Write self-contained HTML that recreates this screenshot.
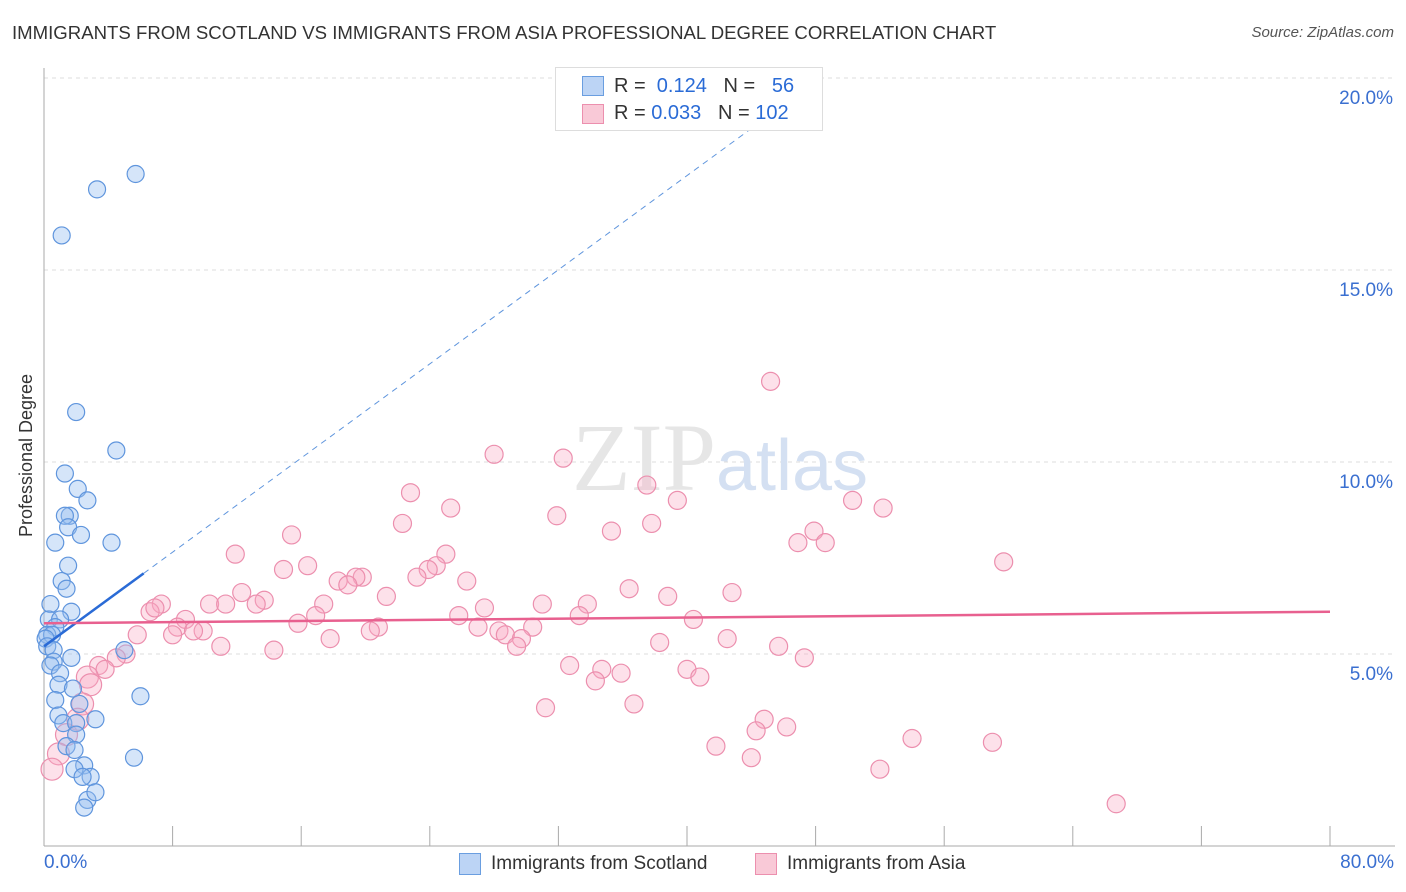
<!DOCTYPE html>
<html><head><meta charset="utf-8"><style>
body{margin:0;background:#fff;font-family:"Liberation Sans",sans-serif;}
#c{position:relative;width:1406px;height:892px;overflow:hidden;}
.t{position:absolute;white-space:nowrap;}
</style></head><body>
<div id="c">
<div class="t" style="left:12px;top:22px;font-size:18.6px;color:#333;">IMMIGRANTS FROM SCOTLAND VS IMMIGRANTS FROM ASIA PROFESSIONAL DEGREE CORRELATION CHART</div>
<div class="t" style="right:12px;top:24px;font-size:15px;color:#555;font-style:italic;">Source: ZipAtlas.com</div>
<svg id="s" width="1406" height="892" style="position:absolute;left:0;top:0"></svg>
</div>
<script>
const scotX=[3.3,5.7,1.1,2.0,4.5,1.3,2.1,2.7,1.6,1.3,1.5,2.3,0.7,4.2,1.5,1.1,1.4,0.4,1.7,0.3,1.0,0.7,0.2,0.5,0.1,0.2,0.6,5.0,0.6,1.7,0.4,1.0,0.9,1.8,0.7,2.2,6.0,0.9,3.2,1.2,2.0,2.0,1.4,1.9,5.6,2.5,1.9,2.9,2.4,2.7,3.2,2.5];
const scotY=[17.1,17.5,15.9,11.3,10.3,9.7,9.3,9.0,8.6,8.6,8.3,8.1,7.9,7.9,7.3,6.9,6.7,6.3,6.1,5.9,5.9,5.7,5.5,5.5,5.4,5.2,5.1,5.1,4.8,4.9,4.7,4.5,4.2,4.1,3.8,3.7,3.9,3.4,3.3,3.2,3.2,2.9,2.6,2.5,2.3,2.1,2.0,1.8,1.8,1.2,1.4,1.0];
const asiaX=[45.2,28.0,32.3,37.5,22.8,39.4,50.3,52.2,25.3,31.9,22.3,37.8,35.3,15.4,47.9,46.9,48.6,11.9,25.0,59.7,24.4,16.4,14.9,23.9,19.8,23.2,18.3,19.4,26.3,18.9,36.4,12.3,21.3,42.8,38.8,7.3,13.7,13.2,10.3,11.3,31.0,6.6,6.9,33.8,27.4,17.4,25.8,16.9,33.3,8.8,40.4,15.8,20.8,8.3,27.0,30.4,9.9,9.3,28.3,8.0,20.3,28.7,29.7,17.8,5.8,42.5,38.3,29.4,11.0,14.3,45.7,5.1,4.5,47.3,3.4,3.8,32.7,34.7,35.9,40.0,40.8,34.3,2.7,2.9,2.4,2.1,36.7,31.2,44.8,44.3,46.2,1.4,41.8,54.0,59.0,44.0,0.9,52.0,0.5,66.7];
const asiaY=[12.1,10.2,10.1,9.4,9.2,9.0,9.0,8.8,8.8,8.6,8.4,8.4,8.2,8.1,8.2,7.9,7.9,7.6,7.6,7.4,7.3,7.3,7.2,7.2,7.0,7.0,6.9,7.0,6.9,6.8,6.7,6.6,6.5,6.6,6.5,6.3,6.4,6.3,6.3,6.3,6.3,6.1,6.2,6.3,6.2,6.3,6.0,6.0,6.0,5.9,5.9,5.8,5.7,5.7,5.7,5.7,5.6,5.6,5.6,5.5,5.6,5.5,5.4,5.4,5.5,5.4,5.3,5.2,5.2,5.1,5.2,5.0,4.9,4.9,4.7,4.6,4.7,4.6,4.5,4.6,4.4,4.3,4.4,4.2,3.7,3.3,3.7,3.6,3.3,3.0,3.1,2.9,2.6,2.8,2.7,2.3,2.4,2.0,2.0,1.1];
const yTicks=[5,10,15,20];
const scotTrend=[0,5.2,6.2,7.1];
const asiaTrend=[0,5.8,80,6.1];
const X=v=>44+v/80*1286, Y=v=>846-v/5*192;
const s=document.getElementById('s'),NS='http://www.w3.org/2000/svg';
function mk(tag,a,name,p){const e=document.createElementNS(NS,tag);for(const k in a)e.setAttribute(k,a[k]);


(p||s).appendChild(e);return e;}
yTicks.forEach(v=>{mk('line',{x1:44,x2:1395,y1:Y(v),y2:Y(v),stroke:'#ddd','stroke-dasharray':'4,4'},'gridline');
const t=mk('text',{x:1393,y:Y(v)+26,'text-anchor':'end','font-size':19,fill:'#3a6fd0','font-family':'Liberation Sans'},'y-tick-label');t.textContent=v.toFixed(1)+'%';});
mk('line',{x1:44,x2:44,y1:68,y2:846,stroke:'#aaa'},'y-axis');
mk('line',{x1:44,x2:1395,y1:846,y2:846,stroke:'#aaa'},'x-axis');
for(let i=1;i<=10;i++){mk('line',{x1:X(i*8),x2:X(i*8),y1:826,y2:846,stroke:'#aaa'},'x-tick');}
const wm=mk('text',{x:720,y:490,'text-anchor':'middle','font-size':96,fill:'#e6e6e6','font-family':'Liberation Serif'},'watermark');wm.innerHTML='ZIP<tspan fill="#d4e0f2" font-family="Liberation Sans" font-size="72">atlas</tspan>';
asiaX.forEach((v,i)=>mk('circle',{cx:X(v),cy:Y(asiaY[i]),r:v<3?11:9,fill:'rgba(248,170,195,0.35)',stroke:'#ec8fae','stroke-width':1.2},'asia-point'));
scotX.forEach((v,i)=>mk('circle',{cx:X(v),cy:Y(scotY[i]),r:8.5,fill:'rgba(150,190,240,0.4)',stroke:'#5f95dd','stroke-width':1.2},'scotland-point'));
const sl=(scotTrend[3]-scotTrend[1])/(6.2-0);
const yEnd=18.9;
mk('line',{x1:X(6.2),y1:Y(scotTrend[3]),x2:X(6.2+(yEnd-scotTrend[3])/sl),y2:Y(yEnd),stroke:'#5f95dd','stroke-dasharray':'6,5','stroke-width':1},'scotland-trend-ext');
mk('line',{x1:X(0),y1:Y(scotTrend[1]),x2:X(6.2),y2:Y(scotTrend[3]),stroke:'#2a6bd6','stroke-width':2.5},'scotland-trend');
mk('line',{x1:X(0),y1:Y(asiaTrend[1]),x2:X(asiaTrend[2]),y2:Y(asiaTrend[3]),stroke:'#e8608f','stroke-width':2.5},'asia-trend');
</script>
<div class="t" style="left:44px;top:852px;font-size:19px;color:#3a6fd0;">0.0%</div>
<div class="t" style="right:12px;top:852px;font-size:19px;color:#3a6fd0;">80.0%</div>
<div class="t" style="left:-55px;top:445px;transform:rotate(-90deg);font-size:18px;color:#333;">Professional Degree</div>
<div style="position:absolute;left:555px;top:67px;width:266px;height:62px;border:1px solid #ddd;background:#fff;font-size:20px;">
<div class="t" style="left:26px;top:8px;width:20px;height:18px;background:#bcd4f5;border:1px solid #6a9ee0"></div>
<div class="t" style="left:58px;top:7px;color:#333">R = <span style="color:#2a6bd6">&nbsp;0.124</span>&nbsp;&nbsp;&nbsp;N = <span style="color:#2a6bd6">&nbsp;&nbsp;56</span></div>
<div class="t" style="left:26px;top:36px;width:20px;height:18px;background:#f9c9d7;border:1px solid #ec8fae"></div>
<div class="t" style="left:58px;top:34px;color:#333">R = <span style="color:#2a6bd6">0.033</span>&nbsp;&nbsp;&nbsp;N = <span style="color:#2a6bd6">102</span></div>
</div>
<div class="t" style="left:459px;top:853px;width:20px;height:20px;background:#bcd4f5;border:1px solid #6a9ee0"></div>
<div class="t" style="left:491px;top:853px;font-size:19px;color:#333">Immigrants from Scotland</div>
<div class="t" style="left:755px;top:853px;width:20px;height:20px;background:#f9c9d7;border:1px solid #ec8fae"></div>
<div class="t" style="left:787px;top:853px;font-size:19px;color:#333">Immigrants from Asia</div>
</body></html>
